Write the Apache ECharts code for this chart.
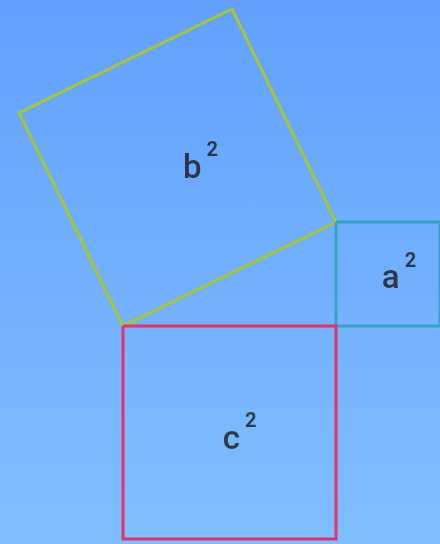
<!DOCTYPE html>
<html>
<head>
<meta charset="utf-8">
<script src="https://cdn.jsdelivr.net/npm/echarts@6/dist/echarts.min.js"></script>
<style>
  html, body { margin: 0; padding: 0; }
  #main {
    width: 440px; height: 544px;
    background: linear-gradient(to bottom, #61a0fe 0%, #72b0ff 50%, #80beff 100%);
  }
</style>
</head>
<body>
<div id="main"></div>
<script>
// triangle: corner where b and c meet, and the two legs
var corner = [123, 326];
var legC = 213;   // horizontal leg (side of c² square)
var legA = 104;   // vertical leg (side of a² square)
var colors = { a: '#3a9fc6', b: '#a6c63a', c: '#e0326c' };

var chart = echarts.init(document.getElementById('main'));

var P = corner;
var Q = [corner[0] + legC, corner[1]];          // right angle
var R = [corner[0] + legC, corner[1] - legA];   // top of vertical leg

// squares built on each side
var sqC = [P, Q, [Q[0], Q[1] + legC], [P[0], P[1] + legC], P];
var sqA = [R, [R[0] + legA, R[1]], [Q[0] + legA, Q[1]], Q, R];
var dx = R[0] - P[0], dy = R[1] - P[1];
var sqB = [P, R, [R[0] + dy, R[1] - dx], [P[0] + dy, P[1] - dx], P];

function center(sq) {
  return [(sq[0][0] + sq[2][0]) / 2, (sq[0][1] + sq[2][1]) / 2];
}

function square(name, pts) {
  return {
    type: 'line', name: name, data: pts, symbol: 'none', silent: true,
    clip: false,
    lineStyle: { color: colors[name], width: 3, join: 'miter' }
  };
}

var labelData = [
  { name: 'a', value: center(sqA), label: { offset: [11, 0] } },
  { name: 'b', value: center(sqB), label: { offset: [23, -4] } },
  { name: 'c', value: center(sqC), label: { offset: [10, 2] } }
];

chart.setOption({
  animation: false,
  grid: { left: 0, right: 0, top: 0, bottom: 0 },
  xAxis: { type: 'value', min: 0, max: 440, show: false },
  yAxis: { type: 'value', min: 0, max: 544, inverse: true, show: false },
  series: [
    square('b', sqB),
    square('a', sqA),
    square('c', sqC),
    {
      type: 'scatter', data: labelData, symbolSize: 0, silent: true,
      label: {
        show: true, position: 'inside',
        formatter: function (p) { return '{v|' + p.name + '}{s|2}'; },
        rich: {
          v: { fontFamily: 'Roboto', fontSize: 33, fontWeight: 500, color: '#1a1a1a', verticalAlign: 'bottom', padding: [12, 5, 0, 0] },
          s: { fontFamily: 'Roboto', fontSize: 20, fontWeight: 'bold', color: '#1a1a1a', verticalAlign: 'top', padding: [0, 0, 12, 0] }
        }
      }
    }
  ]
});
</script>
</body>
</html>
